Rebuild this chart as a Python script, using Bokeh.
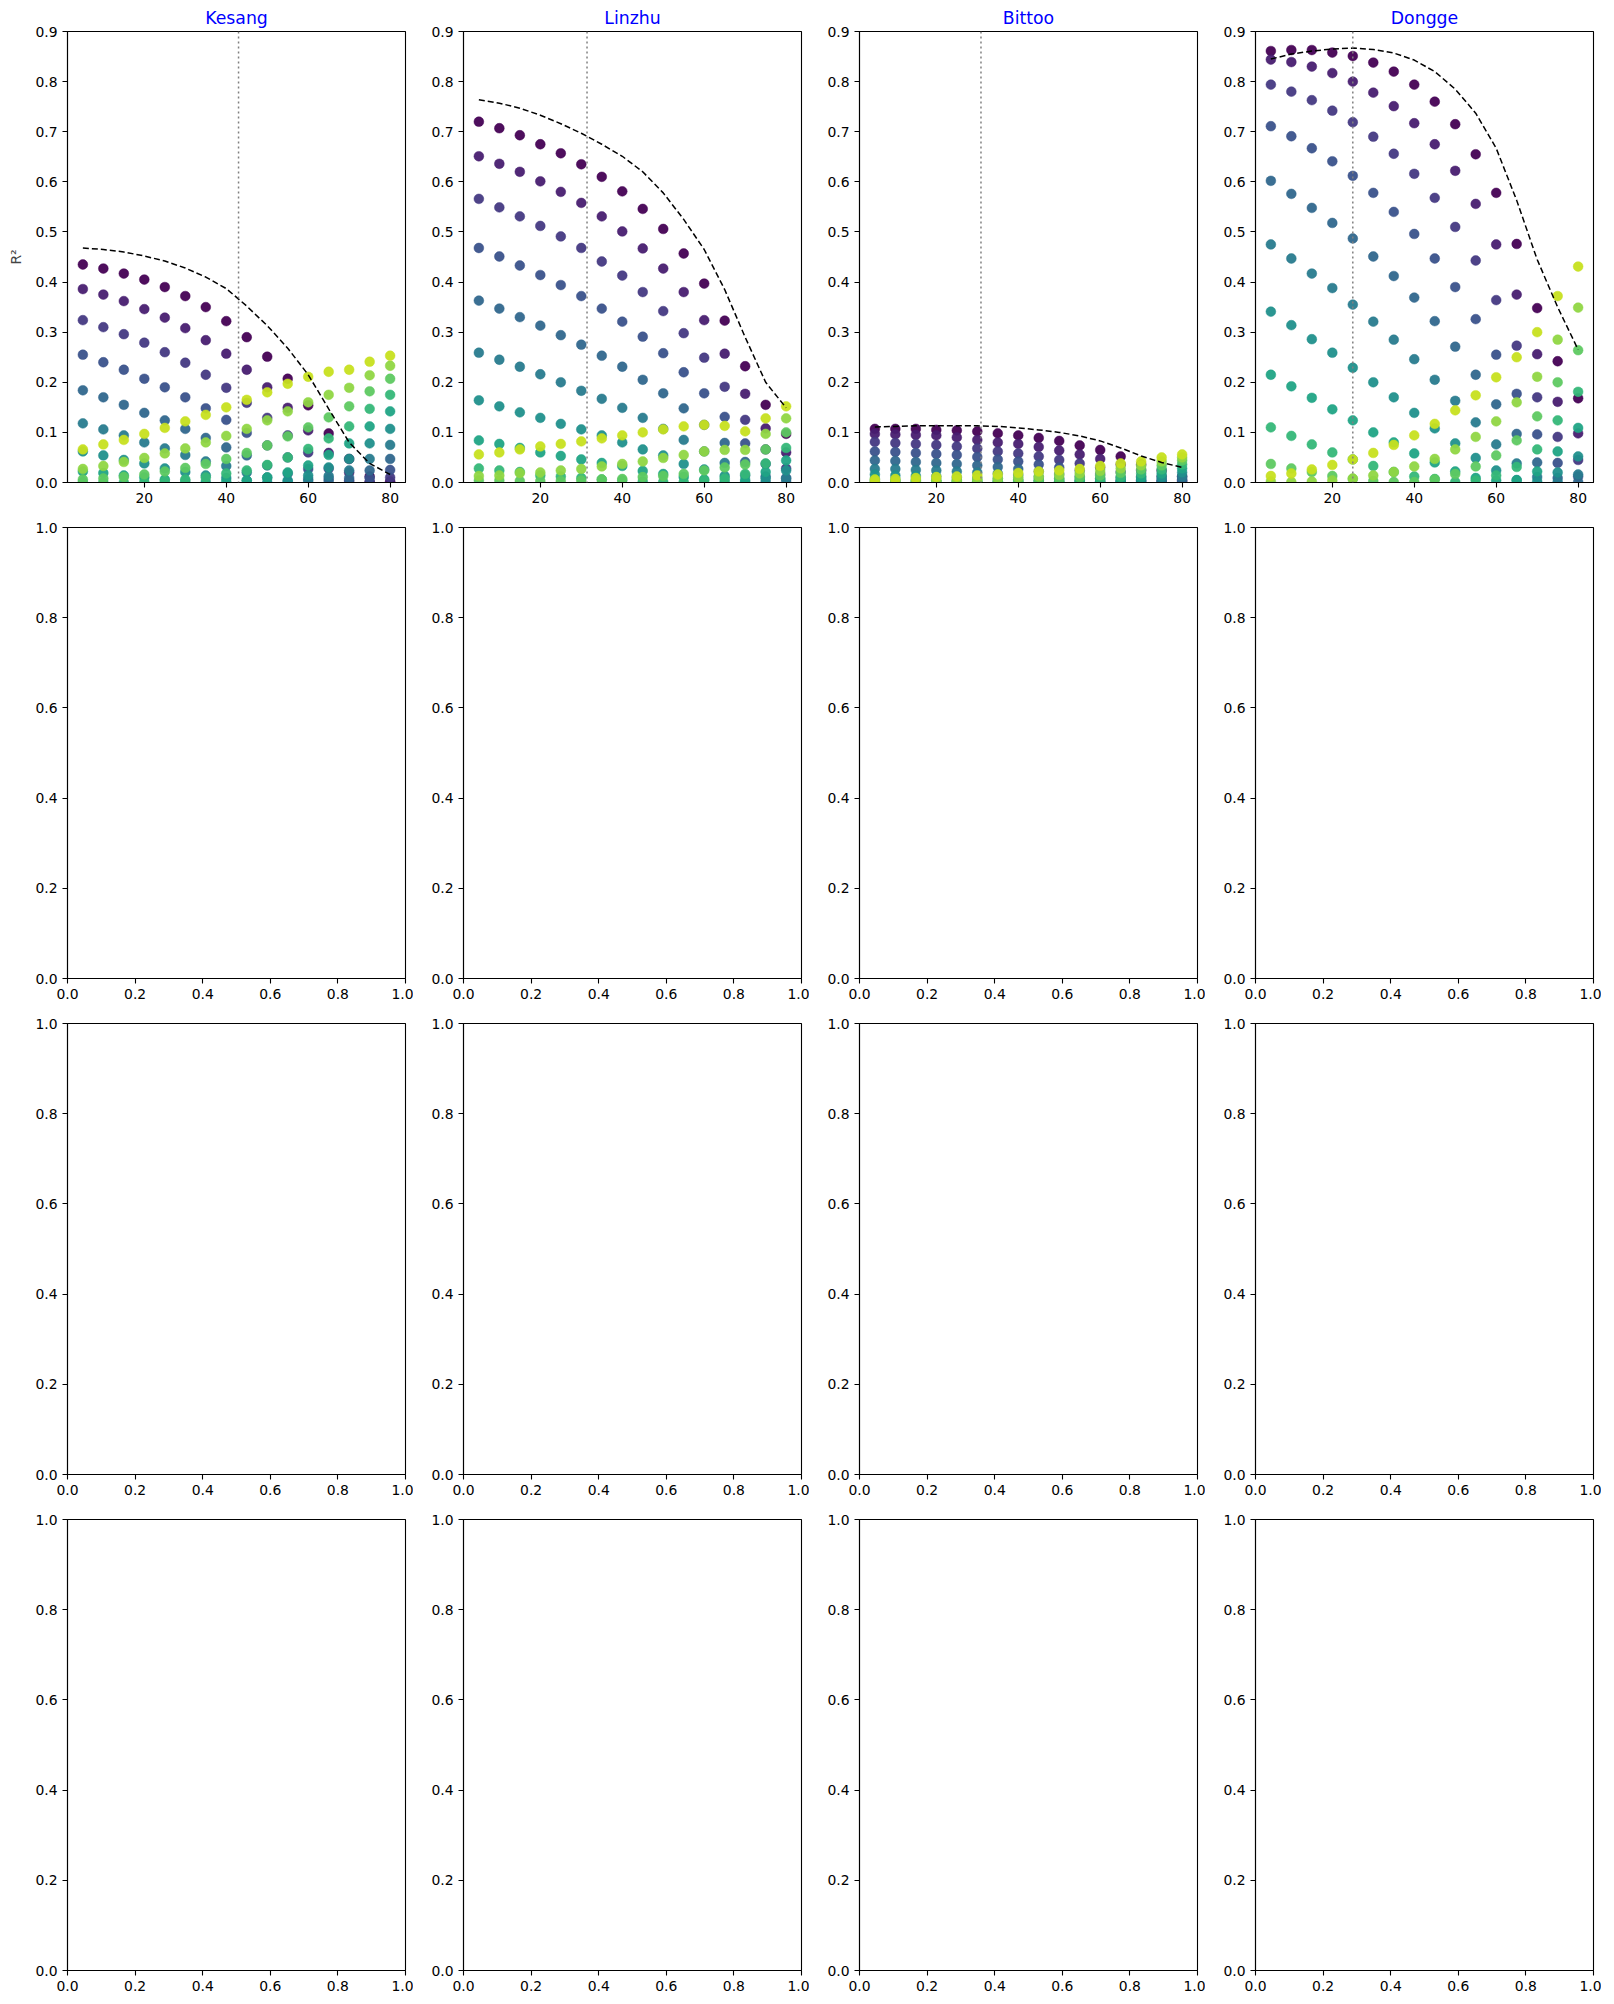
from bokeh.plotting import figure
from bokeh.layouts import column, row
from bokeh.models import Span, FixedTicker, NumeralTickFormatter, ColumnDataSource, Range1d
from bokeh.palettes import Viridis256
from bokeh.embed import file_html
from bokeh.resources import INLINE

# ---------------- data ----------------
x_vals = [5, 10, 15, 20, 25, 30, 35, 40, 45, 50, 55, 60, 65, 70, 75, 80]
panel_names = ["Kesang", "Linzhu", "Bittoo", "Dongge"]
n_series = 12

kesang_r2 = [
    [0.435, 0.427, 0.417, 0.405, 0.390, 0.372, 0.350, 0.322, 0.290, 0.251, 0.207, 0.154, 0.098, 0.047, 0.012, 0.000],
    [0.386, 0.375, 0.362, 0.346, 0.329, 0.308, 0.284, 0.257, 0.225, 0.190, 0.149, 0.104, 0.059, 0.020, 0.001, 0.002],
    [0.324, 0.310, 0.296, 0.279, 0.260, 0.239, 0.215, 0.189, 0.159, 0.129, 0.094, 0.060, 0.028, 0.004, 0.001, 0.010],
    [0.255, 0.240, 0.225, 0.207, 0.190, 0.170, 0.148, 0.125, 0.099, 0.074, 0.050, 0.027, 0.008, 0.001, 0.009, 0.025],
    [0.184, 0.170, 0.155, 0.139, 0.124, 0.107, 0.089, 0.070, 0.054, 0.034, 0.018, 0.007, 0.003, 0.009, 0.024, 0.047],
    [0.118, 0.106, 0.094, 0.080, 0.068, 0.055, 0.042, 0.033, 0.020, 0.010, 0.002, 0.003, 0.013, 0.024, 0.047, 0.075],
    [0.062, 0.054, 0.045, 0.038, 0.028, 0.021, 0.014, 0.009, 0.004, 0.000, 0.004, 0.014, 0.030, 0.047, 0.078, 0.107],
    [0.022, 0.019, 0.014, 0.010, 0.006, 0.003, 0.001, 0.002, 0.004, 0.010, 0.020, 0.034, 0.055, 0.078, 0.112, 0.142],
    [0.001, 0.000, 0.000, 0.001, 0.003, 0.006, 0.010, 0.018, 0.024, 0.035, 0.050, 0.067, 0.088, 0.112, 0.147, 0.175],
    [0.006, 0.008, 0.011, 0.016, 0.022, 0.029, 0.037, 0.047, 0.059, 0.074, 0.092, 0.110, 0.130, 0.152, 0.182, 0.207],
    [0.027, 0.033, 0.041, 0.049, 0.058, 0.068, 0.080, 0.093, 0.107, 0.124, 0.142, 0.160, 0.175, 0.189, 0.214, 0.233],
    [0.066, 0.076, 0.085, 0.097, 0.109, 0.122, 0.135, 0.150, 0.165, 0.180, 0.197, 0.211, 0.221, 0.225, 0.241, 0.253],
]

linzhu_r2 = [
    [0.720, 0.707, 0.693, 0.675, 0.657, 0.635, 0.610, 0.581, 0.546, 0.506, 0.457, 0.397, 0.323, 0.232, 0.155, 0.097],
    [0.651, 0.636, 0.620, 0.601, 0.580, 0.558, 0.531, 0.501, 0.467, 0.427, 0.380, 0.324, 0.257, 0.177, 0.108, 0.060],
    [0.566, 0.549, 0.531, 0.512, 0.491, 0.468, 0.441, 0.413, 0.380, 0.342, 0.298, 0.249, 0.191, 0.125, 0.066, 0.028],
    [0.468, 0.451, 0.433, 0.414, 0.394, 0.372, 0.347, 0.321, 0.291, 0.258, 0.220, 0.178, 0.131, 0.078, 0.037, 0.009],
    [0.363, 0.347, 0.330, 0.313, 0.294, 0.275, 0.253, 0.231, 0.205, 0.178, 0.148, 0.115, 0.079, 0.041, 0.012, 0.001],
    [0.259, 0.245, 0.231, 0.216, 0.200, 0.183, 0.167, 0.149, 0.129, 0.107, 0.085, 0.062, 0.039, 0.014, 0.001, 0.008],
    [0.164, 0.152, 0.140, 0.129, 0.117, 0.106, 0.094, 0.080, 0.066, 0.054, 0.037, 0.026, 0.013, 0.001, 0.008, 0.024],
    [0.084, 0.077, 0.069, 0.060, 0.053, 0.046, 0.039, 0.033, 0.023, 0.017, 0.011, 0.006, 0.002, 0.005, 0.021, 0.044],
    [0.028, 0.024, 0.021, 0.014, 0.012, 0.009, 0.006, 0.004, 0.002, 0.001, 0.001, 0.004, 0.008, 0.017, 0.038, 0.069],
    [0.004, 0.004, 0.003, 0.003, 0.003, 0.004, 0.006, 0.007, 0.011, 0.013, 0.017, 0.024, 0.030, 0.036, 0.066, 0.100],
    [0.013, 0.014, 0.019, 0.020, 0.024, 0.027, 0.032, 0.037, 0.042, 0.049, 0.055, 0.062, 0.065, 0.065, 0.097, 0.128],
    [0.056, 0.060, 0.066, 0.072, 0.077, 0.082, 0.088, 0.094, 0.100, 0.106, 0.112, 0.115, 0.113, 0.102, 0.128, 0.152],
]

bittoo_r2 = [
    [0.107, 0.107, 0.107, 0.105, 0.104, 0.102, 0.098, 0.094, 0.089, 0.083, 0.074, 0.065, 0.052, 0.036, 0.024, 0.012],
    [0.097, 0.096, 0.095, 0.094, 0.090, 0.085, 0.080, 0.077, 0.071, 0.064, 0.056, 0.047, 0.036, 0.024, 0.012, 0.004],
    [0.081, 0.079, 0.077, 0.075, 0.072, 0.068, 0.062, 0.058, 0.052, 0.045, 0.038, 0.030, 0.021, 0.012, 0.004, 0.000],
    [0.062, 0.061, 0.059, 0.057, 0.055, 0.051, 0.046, 0.042, 0.036, 0.030, 0.024, 0.017, 0.010, 0.004, 0.000, 0.001],
    [0.044, 0.043, 0.041, 0.039, 0.037, 0.034, 0.031, 0.027, 0.022, 0.017, 0.012, 0.008, 0.003, 0.000, 0.001, 0.006],
    [0.027, 0.027, 0.025, 0.024, 0.022, 0.020, 0.018, 0.015, 0.011, 0.008, 0.005, 0.002, 0.000, 0.001, 0.005, 0.012],
    [0.016, 0.014, 0.013, 0.012, 0.010, 0.009, 0.008, 0.006, 0.004, 0.002, 0.001, 0.000, 0.001, 0.005, 0.011, 0.020],
    [0.007, 0.006, 0.005, 0.004, 0.003, 0.002, 0.002, 0.001, 0.000, 0.000, 0.001, 0.002, 0.005, 0.010, 0.018, 0.028],
    [0.002, 0.001, 0.001, 0.000, 0.000, 0.000, 0.000, 0.000, 0.001, 0.002, 0.004, 0.007, 0.011, 0.018, 0.026, 0.036],
    [0.000, 0.000, 0.000, 0.001, 0.001, 0.002, 0.002, 0.003, 0.005, 0.007, 0.010, 0.014, 0.019, 0.026, 0.034, 0.044],
    [0.002, 0.002, 0.003, 0.004, 0.005, 0.006, 0.008, 0.010, 0.012, 0.015, 0.018, 0.023, 0.028, 0.034, 0.042, 0.050],
    [0.006, 0.007, 0.009, 0.011, 0.012, 0.014, 0.016, 0.019, 0.022, 0.024, 0.027, 0.033, 0.038, 0.042, 0.050, 0.056],
]

dongge_r2 = [
    [0.861, 0.863, 0.863, 0.858, 0.851, 0.838, 0.820, 0.794, 0.760, 0.715, 0.655, 0.578, 0.476, 0.348, 0.242, 0.168],
    [0.844, 0.839, 0.830, 0.817, 0.800, 0.778, 0.751, 0.717, 0.675, 0.622, 0.556, 0.475, 0.375, 0.256, 0.161, 0.098],
    [0.794, 0.780, 0.763, 0.742, 0.719, 0.690, 0.656, 0.616, 0.568, 0.510, 0.443, 0.364, 0.273, 0.170, 0.091, 0.045],
    [0.711, 0.691, 0.667, 0.641, 0.612, 0.578, 0.540, 0.496, 0.447, 0.390, 0.326, 0.255, 0.177, 0.096, 0.039, 0.012],
    [0.602, 0.576, 0.548, 0.518, 0.487, 0.451, 0.412, 0.369, 0.322, 0.271, 0.215, 0.156, 0.097, 0.040, 0.009, 0.001],
    [0.475, 0.447, 0.417, 0.388, 0.355, 0.321, 0.285, 0.246, 0.205, 0.163, 0.120, 0.076, 0.038, 0.011, 0.001, 0.016],
    [0.341, 0.314, 0.286, 0.259, 0.229, 0.200, 0.170, 0.139, 0.108, 0.078, 0.049, 0.024, 0.005, 0.002, 0.020, 0.052],
    [0.215, 0.192, 0.169, 0.146, 0.124, 0.100, 0.080, 0.058, 0.040, 0.022, 0.009, 0.004, 0.004, 0.022, 0.062, 0.109],
    [0.110, 0.093, 0.076, 0.060, 0.046, 0.033, 0.021, 0.012, 0.007, 0.001, 0.004, 0.014, 0.031, 0.066, 0.124, 0.181],
    [0.037, 0.028, 0.021, 0.013, 0.007, 0.003, 0.001, 0.001, 0.006, 0.017, 0.032, 0.054, 0.084, 0.132, 0.200, 0.264],
    [0.002, 0.001, 0.002, 0.004, 0.008, 0.014, 0.021, 0.032, 0.047, 0.066, 0.091, 0.122, 0.160, 0.211, 0.285, 0.349],
    [0.013, 0.018, 0.026, 0.035, 0.046, 0.059, 0.075, 0.094, 0.117, 0.144, 0.174, 0.210, 0.250, 0.300, 0.372, 0.431],
]

kesang_dashed = [0.468, 0.465, 0.460, 0.452, 0.442, 0.428, 0.410, 0.387, 0.352, 0.313, 0.268, 0.215, 0.147, 0.080, 0.038, 0.016]
linzhu_dashed = [0.764, 0.757, 0.747, 0.733, 0.716, 0.697, 0.675, 0.651, 0.620, 0.578, 0.525, 0.465, 0.385, 0.290, 0.200, 0.149]
bittoo_dashed = [0.111, 0.112, 0.113, 0.113, 0.113, 0.113, 0.112, 0.109, 0.105, 0.100, 0.093, 0.083, 0.069, 0.053, 0.040, 0.030]
dongge_dashed = [0.845, 0.855, 0.861, 0.865, 0.867, 0.864, 0.857, 0.843, 0.820, 0.785, 0.737, 0.667, 0.563, 0.445, 0.350, 0.265]

vline_x = [43.0, 31.4, 30.9, 25.0]

top_y_ticks = [0.0, 0.1, 0.2, 0.3, 0.4, 0.5, 0.6, 0.7, 0.8, 0.9]
top_x_ticks = [20, 40, 60, 80]
empty_ticks = [0.0, 0.2, 0.4, 0.6, 0.8, 1.0]

panel_r2 = [kesang_r2, linzhu_r2, bittoo_r2, dongge_r2]
panel_dashed = [kesang_dashed, linzhu_dashed, bittoo_dashed, dongge_dashed]

# ---------------- styling helpers ----------------
FONT = "DejaVu Sans"
TICK_SIZE = "13.9px"
FRAME_W, FRAME_H = 338, 451


def style(p, xticks, yticks):
    p.xgrid.visible = False
    p.ygrid.visible = False
    p.outline_line_color = "black"
    p.outline_line_width = 1.1
    p.outline_line_alpha = 1.0
    for ax, ticks in ((p.xaxis, xticks), (p.yaxis, yticks)):
        ax.ticker = FixedTicker(ticks=ticks)
        ax.minor_tick_line_color = None
        ax.major_tick_in = 0
        ax.major_tick_out = 5
        ax.major_tick_line_width = 1.1
        ax.major_tick_line_color = "black"
        ax.axis_line_color = "black"
        ax.axis_line_width = 1.1
        ax.major_label_text_font = FONT
        ax.major_label_text_font_size = TICK_SIZE
        ax.major_label_text_color = "black"
        ax.major_label_standoff = 5


def colour(i):
    return Viridis256[min(255, int(i / n_series * 256))]


rows = []
# first row with data
top_figs = []
for j, name in enumerate(panel_names):
    p = figure(
        frame_width=FRAME_W, frame_height=FRAME_H,
        x_range=Range1d(1.25, 83.75), y_range=Range1d(0, 0.9),
        output_backend="svg", toolbar_location=None, tools="",
        min_border_left=67 if j == 0 else 50, min_border_right=8,
        min_border_top=31, min_border_bottom=32,
        title=name,
    )
    p.title.text_color = "blue"
    p.title.text_font = FONT
    p.title.text_font_size = "17.3px"
    p.title.text_font_style = "normal"
    p.title.align = "center"
    p.title.standoff = 8
    style(p, top_x_ticks, top_y_ticks)
    p.yaxis.formatter = NumeralTickFormatter(format="0.0")
    if j == 0:
        p.yaxis.axis_label = "R²"
        p.yaxis.axis_label_text_font = FONT
        p.yaxis.axis_label_text_font_size = "13.9px"
        p.yaxis.axis_label_text_font_style = "normal"
        p.yaxis.axis_label_standoff = 8

    xs, ys, cs = [], [], []
    for i in range(n_series):
        for k, xv in enumerate(x_vals):
            xs.append(xv)
            ys.append(panel_r2[j][i][k])
            cs.append(colour(i))
    src = ColumnDataSource(dict(x=xs, y=ys, c=cs))
    p.scatter("x", "y", source=src, size=9.8, fill_color="c", line_color="c",
              line_width=0.5, fill_alpha=0.95, line_alpha=0.95)
    p.line(x_vals, panel_dashed[j], line_color="black", line_width=1.5, line_dash="6 3")
    p.add_layout(Span(location=vline_x[j], dimension="height", line_color="gray",
                      line_width=1.5, line_dash="2 3"))
    top_figs.append(p)
rows.append(row(*top_figs, spacing=0))

# remaining empty rows
for r in range(3):
    figs = []
    for j in range(4):
        p = figure(
            frame_width=FRAME_W, frame_height=FRAME_H,
            x_range=Range1d(0, 1), y_range=Range1d(0, 1),
            output_backend="svg", toolbar_location=None, tools="",
            min_border_left=67 if j == 0 else 50, min_border_right=8,
            min_border_top=13, min_border_bottom=32,
        )
        style(p, empty_ticks, empty_ticks)
        p.xaxis.formatter = NumeralTickFormatter(format="0.0")
        p.yaxis.formatter = NumeralTickFormatter(format="0.0")
        figs.append(p)
    rows.append(row(*figs, spacing=0))

layout = column(*rows, spacing=0)

open("out.html", "w").write(file_html(layout, INLINE))
